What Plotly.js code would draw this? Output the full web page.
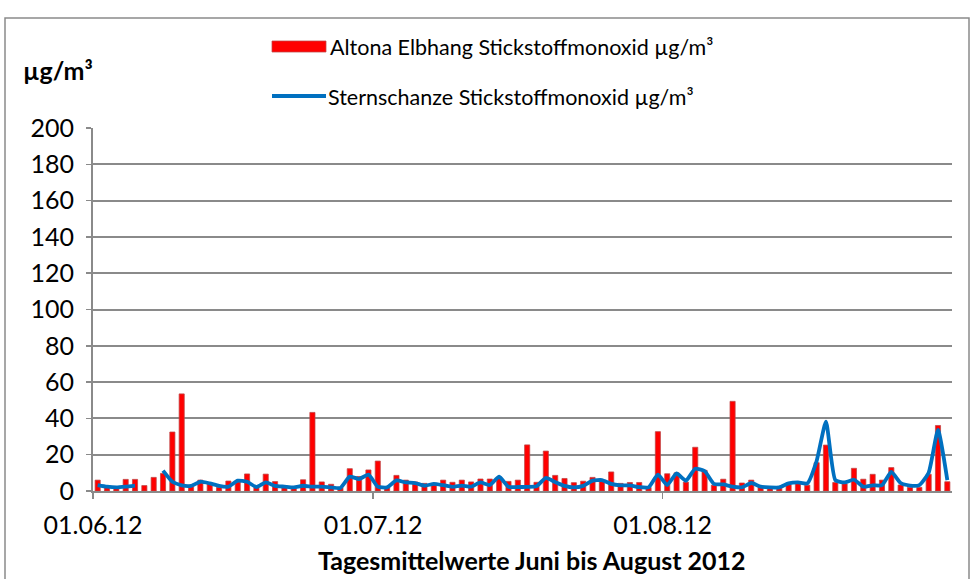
<!DOCTYPE html>
<html>
<head>
<meta charset="utf-8">
<script src="https://cdn.plot.ly/plotly-3.0.1.min.js"></script>
<style>html,body{margin:0;padding:0;background:#fff;}#chart{width:972px;height:579px;}</style>
</head>
<body>
<div id="chart"></div>
<script>
var days = [
"2012-06-01","2012-06-02","2012-06-03","2012-06-04","2012-06-05","2012-06-06","2012-06-07","2012-06-08","2012-06-09","2012-06-10",
"2012-06-11","2012-06-12","2012-06-13","2012-06-14","2012-06-15","2012-06-16","2012-06-17","2012-06-18","2012-06-19","2012-06-20",
"2012-06-21","2012-06-22","2012-06-23","2012-06-24","2012-06-25","2012-06-26","2012-06-27","2012-06-28","2012-06-29","2012-06-30",
"2012-07-01","2012-07-02","2012-07-03","2012-07-04","2012-07-05","2012-07-06","2012-07-07","2012-07-08","2012-07-09","2012-07-10",
"2012-07-11","2012-07-12","2012-07-13","2012-07-14","2012-07-15","2012-07-16","2012-07-17","2012-07-18","2012-07-19","2012-07-20",
"2012-07-21","2012-07-22","2012-07-23","2012-07-24","2012-07-25","2012-07-26","2012-07-27","2012-07-28","2012-07-29","2012-07-30",
"2012-07-31",
"2012-08-01","2012-08-02","2012-08-03","2012-08-04","2012-08-05","2012-08-06","2012-08-07","2012-08-08","2012-08-09","2012-08-10",
"2012-08-11","2012-08-12","2012-08-13","2012-08-14","2012-08-15","2012-08-16","2012-08-17","2012-08-18","2012-08-19","2012-08-20",
"2012-08-21","2012-08-22","2012-08-23","2012-08-24","2012-08-25","2012-08-26","2012-08-27","2012-08-28","2012-08-29","2012-08-30",
"2012-08-31"
];

var altonaElbhang = [
6, 2, 2, 6.4, 6.4, 3, 7.5, 9.7, 32.5, 53.5, 3.3, 6, 4.5, 2, 5.5, 5,
9.4, 2, 9.3, 5.2, 3, 2, 6.2, 43.3, 5, 3.7, 2, 12.3, 8, 11.6, 16.5, 2,
8.6, 6, 5, 4.2, 4, 6, 4.8, 6, 5, 6.6, 6.6, 7.5, 5.3, 6,
25.4, 4.8, 22, 8.6, 6.9, 4.6, 5.4, 7.5, 5.5, 10.5, 4.2, 4.7, 4.7, 2, 32.7,
9.5, 10, 4.9, 24.1, 11.4, 3.2, 6.5, 49.4, 4.4, 6, 2.8, 2, 2, 3.5, 4.2, 3.2,
15.6, 25.3, 4.7, 4, 12.5, 6.5, 9.2, 6, 12.9, 3.3, 2, 2, 9.2, 36.1, 5.1
];

var sternschanze = [
3.3, 2.4, 2, 2.4, 3, null, null, 11.2, 5.1, 3.1, 2.8, 5.1, 4.2, 2.8, 2.4, 5.7,
5.1, 2.2, 4.8, 2.8, 2.4, 2, 2.9, 2.4, 2.4, 2, 1.7, 7.9, 6.6, 9, 2.4, 2,
5.8, 4.7, 4.4, 2.9, 3.9, 3.2, 2.3, 3, 2.4, 4.7, 3.3, 7.9, 2.3, 2.2,
2.3, 2.6, 7.2, 4.9, 2.8, 2, 2.8, 5.7, 6, 3.9, 3.1, 3.1, 2.1, 2, 9,
3.3, 9.7, 5.7, 12.3, 11, 3.9, 3.6, 2.4, 2, 4.4, 2.4, 2, 2, 4.2, 4.7, 4.2,
16.5, 38.2, 6, 4.7, 6.2, 2.4, 3.1, 3.2, 10.5, 4.4, 3, 3.2, 10.1, 33.6, 6
];

var tickDates = ["2012-06-01", "2012-07-01", "2012-08-01"];
var tickLabels = ["01.06.12", "01.07.12", "01.08.12"];
var seriesNames = ["Altona Elbhang Stickstoffmonoxid µg/m³", "Sternschanze Stickstoffmonoxid µg/m³"];
var yTitle = "µg/m³";
var xTitle = "Tagesmittelwerte Juni bis August 2012";

var FONT = "Lato, 'Open Sans', sans-serif";
var GRID = "#8a8a8a";
var DAY = 86400000;

var traces = [
  {
    type: "bar", name: seriesNames[0], x: days, y: altonaElbhang,
    xperiod: DAY, xperiodalignment: "middle",
    marker: {color: "#ff0000", line: {color: "rgba(190,70,70,0.75)", width: 1}},
    hoverinfo: "x+y"
  },
  {
    type: "scatter", mode: "lines", name: seriesNames[1], x: days, y: sternschanze,
    xperiod: DAY, xperiodalignment: "middle",
    line: {color: "#0070c0", width: 3.8, shape: "spline", smoothing: 0.5},
    connectgaps: false
  }
];

var L = 93, R = 952, T = 128, B = 491, W = 972, H = 579;
function px(x) { return (x - L) / (R - L); }
function py(y) { return (B - y) / (B - T); }

var layout = {
  width: W, height: H,
  margin: {l: L, r: W - R, t: T, b: H - B, pad: 0},
  paper_bgcolor: "#ffffff", plot_bgcolor: "#ffffff",
  showlegend: false,
  bargap: 0.45,
  font: {family: FONT, color: "#000", size: 22},
  xaxis: {
    type: "date",
    range: ["2012-06-01", "2012-09-01"],
    tickvals: tickDates, ticktext: tickLabels,
    ticks: "outside", ticklen: 6, tickcolor: GRID, tickwidth: 1.5,
    showline: true, linecolor: GRID, linewidth: 2,
    showgrid: false, zeroline: false,
    tickfont: {family: FONT, size: 25, color: "#000"},
    ticklabelstandoff: 5
  },
  yaxis: {
    range: [0, 200], dtick: 20, tick0: 0,
    ticks: "outside", ticklen: 5, tickcolor: GRID, tickwidth: 1.5,
    showline: true, linecolor: GRID, linewidth: 2,
    showgrid: true, gridcolor: GRID, gridwidth: 2,
    zeroline: false,
    tickfont: {family: FONT, size: 25, color: "#000"},
    ticklabelstandoff: 7
  },
  shapes: [
    {type: "rect", xref: "paper", yref: "paper", x0: px(5), x1: px(969), y0: py(585), y1: py(18),
     line: {color: "#8a8a8a", width: 1.5}, fillcolor: "rgba(0,0,0,0)", layer: "below"},
    {type: "rect", xref: "paper", yref: "paper", x0: px(272), x1: px(326), y0: py(52), y1: py(41),
     line: {color: "rgba(190,70,70,0.75)", width: 1}, fillcolor: "#ff0000"},
    {type: "line", xref: "paper", yref: "paper", x0: px(272), x1: px(326), y0: py(96), y1: py(96),
     line: {color: "#0070c0", width: 3.8}}
  ],
  annotations: [
    {xref: "paper", yref: "paper", x: px(328), y: py(47), xanchor: "left", yanchor: "middle",
     text: seriesNames[0], showarrow: false, font: {family: FONT, size: 21.5, color: "#000"}},
    {xref: "paper", yref: "paper", x: px(326), y: py(97), xanchor: "left", yanchor: "middle",
     text: seriesNames[1], showarrow: false, font: {family: FONT, size: 21.5, color: "#000"}},
    {xref: "paper", yref: "paper", x: px(21), y: py(70), xanchor: "left", yanchor: "middle",
     text: "<b>" + yTitle + "</b>", showarrow: false, font: {family: FONT, size: 25, color: "#000"}},
    {xref: "paper", yref: "paper", x: px(532), y: py(560), xanchor: "center", yanchor: "middle",
     text: "<b>" + xTitle + "</b>", showarrow: false, font: {family: FONT, size: 25, color: "#000"}}
  ]
};

Plotly.newPlot("chart", traces, layout, {staticPlot: true, displayModeBar: false});
</script>
</body>
</html>
